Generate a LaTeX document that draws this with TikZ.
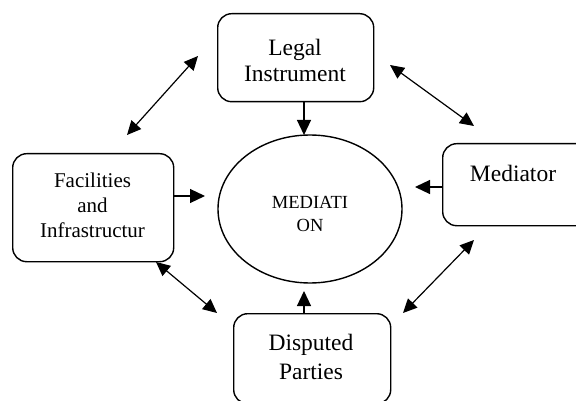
\documentclass[tikz,border=0pt]{standalone}
\usepackage{fontspec}
\setmainfont{Liberation Serif}
\usetikzlibrary{arrows.meta,shapes.geometric}
\tikzset{
  boxed/.style={draw, line width=1.4pt, rounded corners=14pt, inner sep=0pt, anchor=north west},
  lbl/.style={align=center, inner sep=0pt},
  arr/.style={line width=1.2pt, -{Triangle[length=15pt,width=14pt]}},
  darr/.style={line width=1.2pt, {Triangle[length=14pt,width=13pt]}-{Triangle[length=14pt,width=13pt]}},
}
\begin{document}
\begin{tikzpicture}[x=1pt,y=-1pt]
\useasboundingbox (0,0) rectangle (576,401);
\clip (0,0) rectangle (576,401);
% boxes
\node[boxed, minimum width=156pt, minimum height=88pt] (leg) at (217,13) {};
\node[boxed, minimum width=150pt, minimum height=82pt] (med) at (442,143) {};
\node[boxed, minimum width=161pt, minimum height=108pt] (fac) at (12,153) {};
\node[boxed, minimum width=157pt, minimum height=90pt] (dis) at (233,313) {};
\node[draw, ellipse, line width=1.4pt, minimum width=184pt, minimum height=148pt, inner sep=0pt] (ell) at (310,209) {};
% texts
\node[lbl, font=\fontsize{23.5}{26}\selectfont] (legt) at (295,60) {Legal\\Instrument};
\node[lbl, font=\fontsize{23.5}{26}\selectfont] (medt) at (513,173) {Mediator};
\node[lbl, font=\fontsize{21}{25}\selectfont] (fact) at (92.5,205) {Facilities\\and\\Infrastructur};
\node[lbl, font=\fontsize{23.5}{29}\selectfont] (dist) at (311,357) {Disputed\\Parties};
\node[lbl, font=\fontsize{18.5}{23}\selectfont] (ellt) at (310,214) {MEDIATI\\ON};
% single arrows
\coordinate (vx) at (304,0);
\coordinate (hf) at (0,196);
\coordinate (hm) at (0,187);
\draw[arr] (leg.south -| vx) -- (304,135);
\draw[arr] (dis.north -| vx) -- (304,291);
\draw[arr] (fac.east |- hf) -- (205,196);
\draw[arr] (med.west |- hm) -- (415,187);
% double arrows
\coordinate (a1) at (127,135); \coordinate (a2) at (198,56);
\coordinate (b1) at (390,65);  \coordinate (b2) at (474,126);
\coordinate (c1) at (156,262); \coordinate (c2) at (217,313);
\coordinate (d1) at (474,240); \coordinate (d2) at (403,313);
\draw[darr] (a1) -- (a2);
\draw[darr] (b1) -- (b2);
\draw[darr] (c1) -- (c2);
\draw[darr] (d1) -- (d2);
\end{tikzpicture}
\end{document}
